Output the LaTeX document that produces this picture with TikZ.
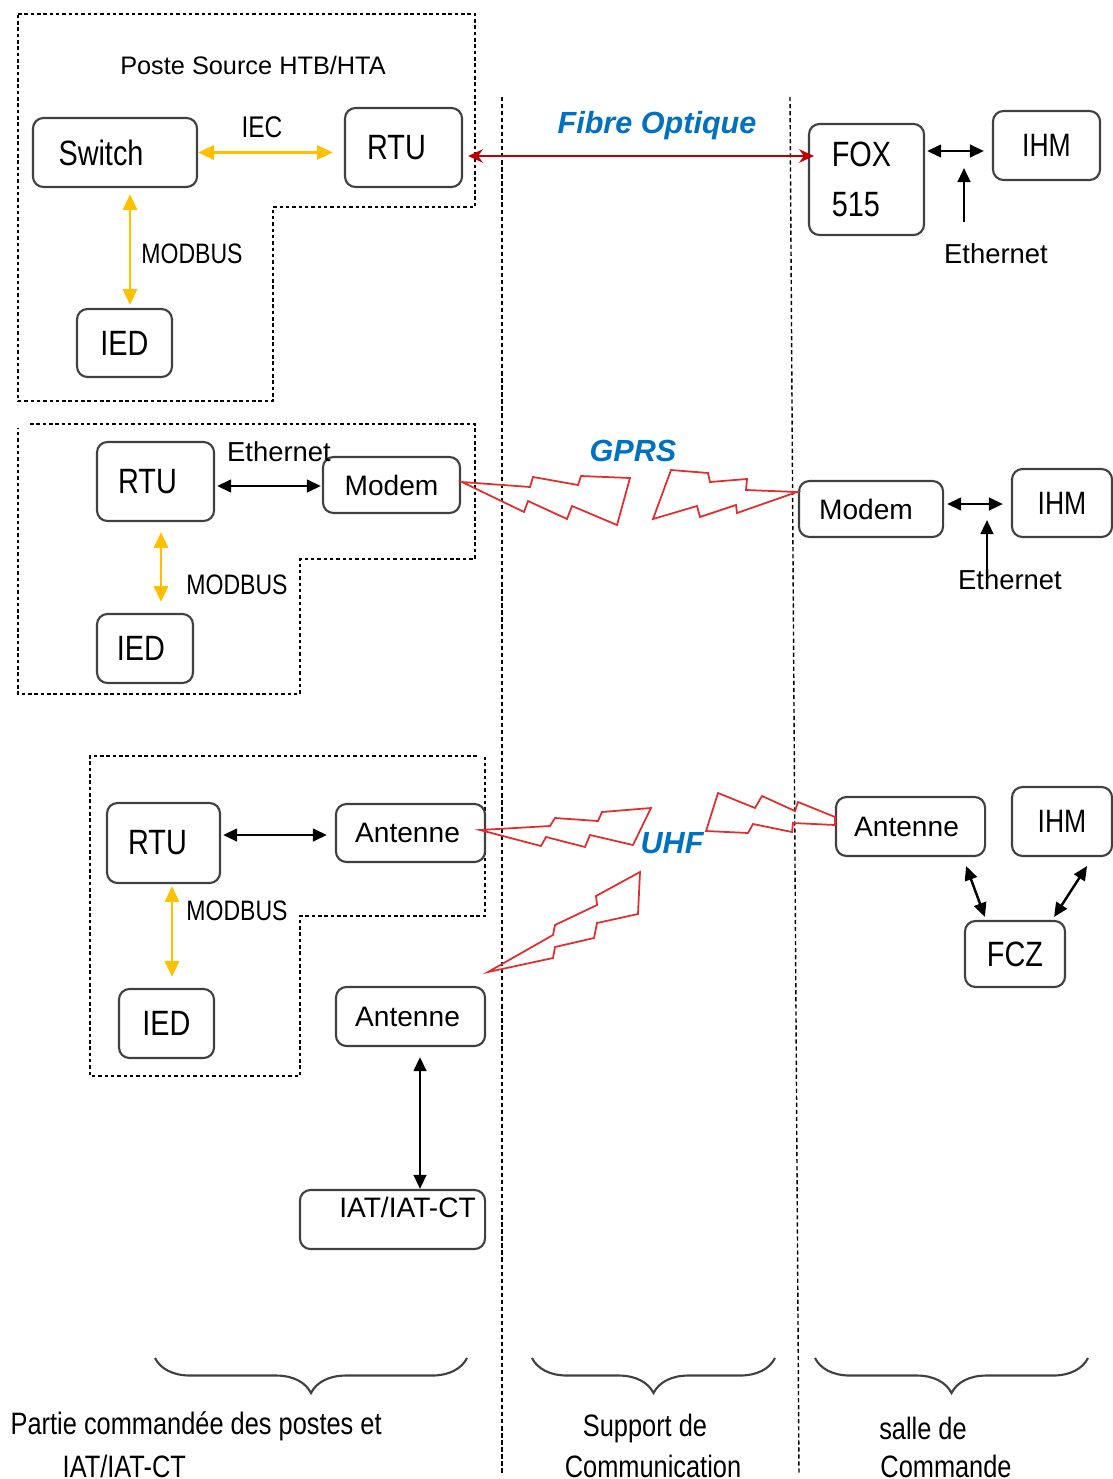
\documentclass[tikz,border=0pt]{standalone}
\usepackage{fontspec}
\setmainfont{Liberation Sans}
\newfontfamily\narrowfont{Liberation Sans}[FakeStretch=0.82]
\usetikzlibrary{arrows.meta, calc, decorations.pathreplacing}
\definecolor{boxgray}{RGB}{64,64,64}
\definecolor{modbusorange}{RGB}{255,192,0}
\definecolor{fibrered}{RGB}{192,0,0}
\definecolor{boltred}{RGB}{225,45,45}
\definecolor{linkblue}{RGB}{0,112,192}

\newcommand\unitfont{\narrowfont\fontsize{10}{14}\selectfont}
\newcommand\portfont{\fontsize{8}{10}\selectfont}
\newcommand\busfont{\narrowfont\fontsize{8}{10}\selectfont}
\newcommand\ethfont{\fontsize{7.8}{9}\selectfont}
\newcommand\linkfont{\fontsize{8.7}{10}\selectfont\bfseries\itshape\color{linkblue}}
\newcommand\partfont{\narrowfont\fontsize{8.8}{11}\selectfont}

\tikzset{
  unitbox/.style={draw=boxgray, line width=0.6pt, rounded corners=3pt,
    inner sep=0pt, font=\unitfont},
  portbox/.style={unitbox, font=\portfont},
  zone/.style={line width=0.4pt, dash pattern=on 1pt off 0.8pt},
  divider/.style={line width=0.4pt, dash pattern=on 1.2pt off 0.8pt},
  busarrow/.style={draw=modbusorange, line width=0.8pt, <->,
    >={Triangle[length=4.5pt,width=4pt]}},
  wirearrow/.style={draw=black, line width=0.7pt, <->,
    >={Triangle[length=4pt,width=3.6pt]}},
  fibrearrow/.style={draw=fibrered, line width=0.75pt, <->,
    >={Stealth[length=4.2pt,width=3.8pt]}},
  bolt/.style={draw=boltred, line width=0.5pt, line join=miter},
  part brace/.style={draw=boxgray, line width=0.6pt, decorate,
    decoration={brace, amplitude=0.35cm}},
  part/.style={font=\partfont, inner sep=0pt},
}

\begin{document}
\begin{tikzpicture}[x=0.01cm, y=-0.01cm]
  \useasboundingbox (0,0) rectangle (1113,1479);

  % zones
  \draw[zone] (18,14) -- (475,14) -- (475,207) -- (273,207) -- (273,401) -- (18,401) -- cycle;
  \draw[zone] (30,424) -- (475,424) -- (475,559) -- (300,559) -- (300,694) -- (18,694) -- (18,428);
  \draw[zone] (477,756) -- (90,756) -- (90,1076) -- (300,1076) -- (300,916) -- (485,916) -- (485,754);
  \draw[divider] (502,97) -- (502,1475);
  \draw[divider] (790,97) -- (799,1475);

  % poste source
  \node[font=\fontsize{7.2}{9}\selectfont] (title) at (253,65) {Poste Source HTB/HTA};
  \node[unitbox, minimum width=1.64cm, minimum height=0.69cm] (switch) at (115,152.5) {\hspace*{-0.28cm}Switch};
  \node[unitbox, minimum width=1.17cm, minimum height=0.79cm] (rtuA) at (403.5,147.5) {\hspace*{-0.14cm}RTU};
  \node[unitbox, minimum width=0.95cm, minimum height=0.68cm] (iedA) at (124.5,343) {IED};
  \node[font=\narrowfont\fontsize{8.5}{10}\selectfont] (iec) at (262,127) {IEC};
  \node[font=\busfont] (busA) at (192,254) {MODBUS};
  \draw[busarrow] (switch.east) -- (switch.east -| rtuA.west) [shorten >=0.11cm];
  \draw[busarrow] ($(switch.south)+(15,6)$) -- ($(iedA.north)+(5.5,-3)$);

  % poste GPRS
  \node[unitbox, minimum width=1.17cm, minimum height=0.79cm] (rtuB) at (155.5,481.5) {\hspace*{-0.16cm}RTU};
  \node[portbox, minimum width=1.37cm, minimum height=0.56cm] (modemL) at (391.5,485) {Modem};
  \node[unitbox, minimum width=0.96cm, minimum height=0.69cm] (iedB) at (145,648.5) {\hspace*{-0.08cm}IED};
  \node[font=\ethfont] (ethB) at (279,452) {Ethernet};
  \node[font=\busfont] (busB) at (237,585) {MODBUS};
  \draw[wirearrow] ($(rtuB.east |- modemL.west)+(2,1)$) -- ($(modemL.west)+(-1,1)$);
  \draw[busarrow] ($(rtuB.south)+(5.5,10)$) -- ($(iedB.north)+(16,-11)$);

  % poste UHF et IAT
  \node[unitbox, minimum width=1.13cm, minimum height=0.80cm] (rtuC) at (163.5,843) {\hspace*{-0.12cm}RTU};
  \node[portbox, minimum width=1.49cm, minimum height=0.58cm] (antL1) at (410.5,833) {\hspace*{-0.06cm}Antenne};
  \node[unitbox, minimum width=0.95cm, minimum height=0.69cm] (iedC) at (166.5,1023.5) {IED};
  \node[portbox, minimum width=1.49cm, minimum height=0.59cm] (antL2) at (410.5,1016.5) {\hspace*{-0.06cm}Antenne};
  \node[portbox, minimum width=1.85cm, minimum height=0.59cm, text height=6pt, text depth=7pt]
    (iat) at (392.5,1219.5) {\hspace*{0.3cm}IAT/IAT-CT};
  \node[font=\busfont] (busC) at (237,911) {MODBUS};
  \draw[wirearrow] ($(rtuC.east)+(2,-8)$) -- ($(antL1.west)+(-8,2)$);
  \draw[busarrow] ($(rtuC.south)+(8.5,2)$) -- ($(iedC.north)+(5.5,-11)$);
  \draw[wirearrow] ($(antL2.south)+(9.5,10)$) -- ($(iat.north)+(27.5,0)$);

  % salle de commande
  \node[unitbox, minimum width=1.15cm, minimum height=1.11cm, align=left] (fox) at (866.5,179.5) {\hspace*{-0.1cm}FOX\\\hspace*{-0.1cm}515};
  \node[unitbox, minimum width=1.07cm, minimum height=0.69cm, font=\narrowfont\fontsize{9.2}{11}\selectfont] (ihmA) at (1046.5,145.5) {IHM};
  \node[font=\ethfont] (ethA) at (996,254) {Ethernet};
  \coordinate (ethAtail) at (964,222);
  \coordinate (ethAtip) at (964,168);
  \draw[wirearrow] ($(fox.east)+(2,-28.5)$) -- ($(ihmA.west)+(-8,5.5)$);
  \draw[wirearrow, -> ] (ethAtail) -- (ethAtip);

  \node[portbox, minimum width=1.44cm, minimum height=0.56cm] (modemR) at (871,509) {\hspace*{-0.1cm}Modem};
  \node[unitbox, minimum width=1.00cm, minimum height=0.68cm, font=\narrowfont\fontsize{9.2}{11}\selectfont] (ihmB) at (1062,503) {IHM};
  \node[font=\ethfont] (ethC) at (1010,580) {Ethernet};
  \coordinate (ethCtail) at (987,578);
  \coordinate (ethCtip) at (987,520);
  \draw[wirearrow] ($(modemR.east)+(3,-5)$) -- ($(ihmB.west)+(-8,1)$);
  \draw[wirearrow, ->] (ethCtail) -- (ethCtip);

  \node[portbox, minimum width=1.49cm, minimum height=0.59cm] (antR) at (910.5,826.5) {\hspace*{-0.08cm}Antenne};
  \node[unitbox, minimum width=1.00cm, minimum height=0.69cm, font=\narrowfont\fontsize{9.2}{11}\selectfont] (ihmC) at (1062,821.5) {IHM};
  \node[unitbox, minimum width=1.00cm, minimum height=0.66cm] (fcz) at (1015,954) {FCZ};
  \draw[wirearrow] ($(antR.south east)+(-20,9)$) -- ($(fcz.north west)+(21,-3)$);
  \draw[wirearrow] ($(ihmC.south)+(25,9)$) -- ($(fcz.north east)+(-12,-3)$);

  % supports de communication
  \node[font=\linkfont] (fibre) at (657,126) {Fibre Optique};
  \draw[fibrearrow] ($(rtuA.east)+(5,8.5)$) -- ($(fox.west)+(6,-23.5)$);

  \node[font=\linkfont] (gprs) at (633,451) {GPRS};
  \draw[bolt] (462,482) -- (530,487) -- (533,477) -- (578,485) -- (581,476) -- (630,478)
    -- (617,525) -- (572,506) -- (567,519) -- (528,501) -- (524,512) -- cycle;
  \draw[bolt] (653,519) -- (671,470) -- (708,473) -- (710,482) -- (747,479) -- (746,490)
    -- (797,492) -- (737,513) -- (736,505) -- (700,517) -- (697,506) -- cycle;

  \node[font=\linkfont] (uhf) at (672,843) {UHF};
  \draw[bolt] (480,830) -- (550,826) -- (555,818) -- (598,821) -- (602,812) -- (651,808)
    -- (633,845) -- (590,835) -- (585,847) -- (546,837) -- (541,846) -- cycle;
  \draw[bolt] (706,831) -- (718,793) -- (755,808) -- (762,796) -- (795,811) -- (798,802)
    -- (835,817) -- (835,825) -- (793,823) -- (792,832) -- (753,824) -- (748,833) -- cycle;
  \draw[bolt] (488,972) -- (553,935) -- (555,925) -- (597,905) -- (596,896) -- (640,872)
    -- (638,914) -- (597,923) -- (594,938) -- (555,947) -- (553,958) -- cycle;

  % parties
  \draw[part brace] (467,1358) -- (155,1358);
  \draw[part brace] (775,1358) -- (532,1358);
  \draw[part brace] (1088,1358) -- (815,1358);
  \node[part, anchor=west] (partA1) at (10,1426) {Partie commandée des postes et};
  \node[part, anchor=west] (partA2) at (62,1466) {IAT/IAT-CT};
  \node[part] (partB1) at (645,1428) {Support de};
  \node[part] (partB2) at (653,1466) {Communication};
  \node[part] (partC1) at (923,1428) {salle de};
  \node[part] (partC2) at (946,1466) {Commande};
\end{tikzpicture}
\end{document}
